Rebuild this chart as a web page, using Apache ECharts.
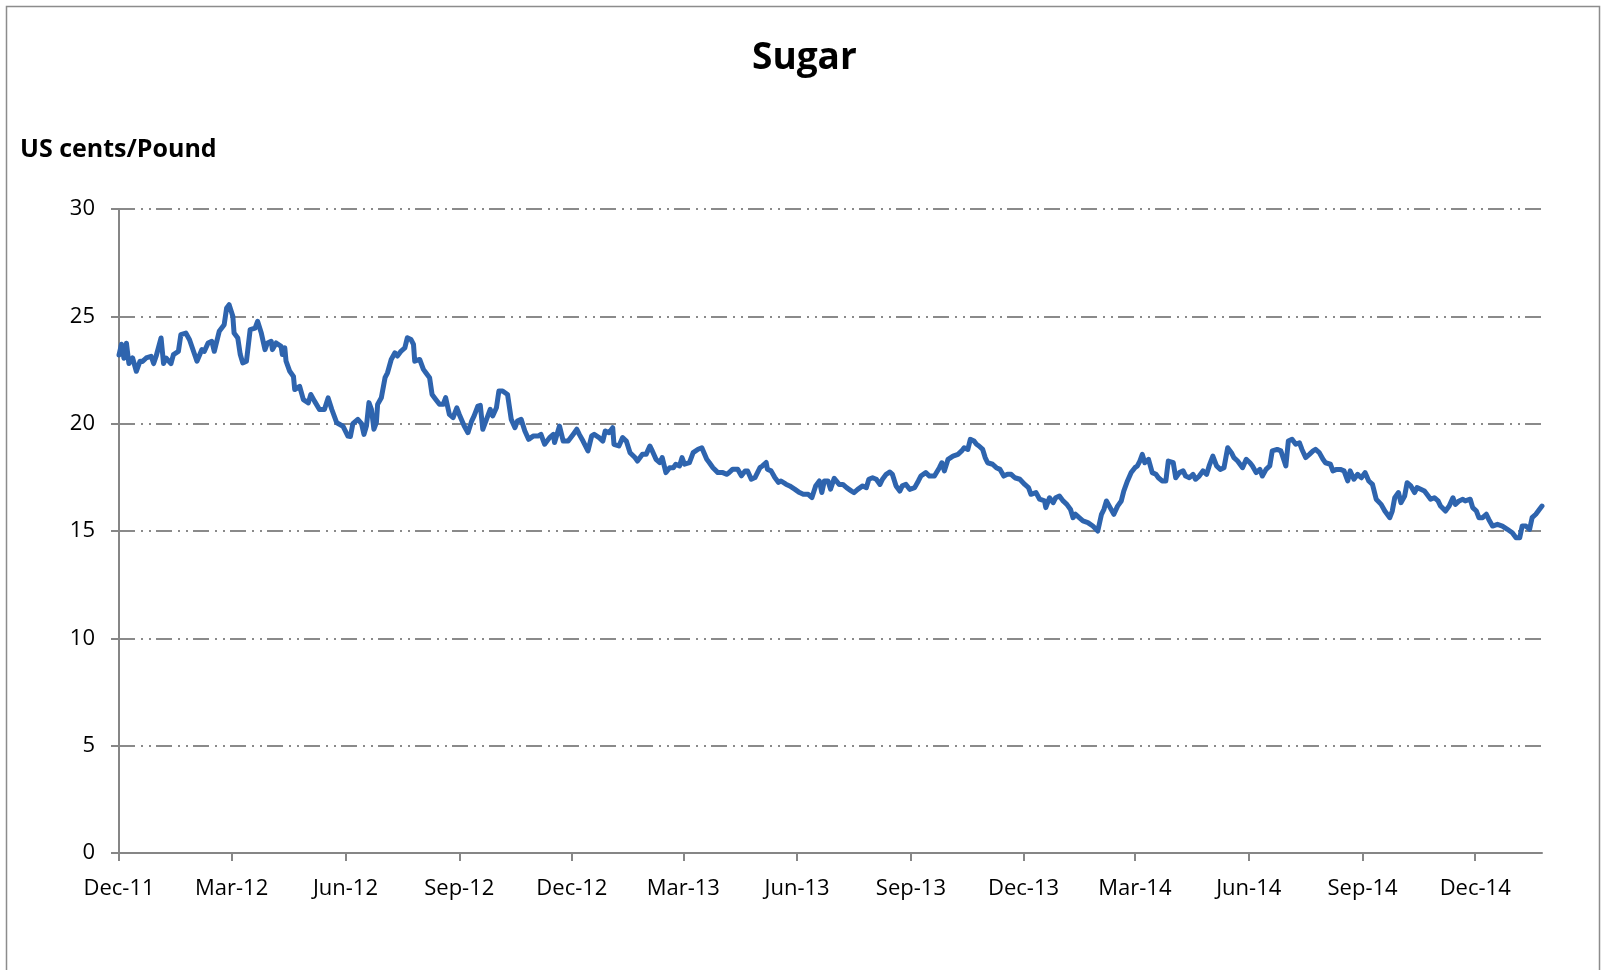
<!DOCTYPE html>
<html>
<head>
<meta charset="utf-8">
<script src="https://cdn.jsdelivr.net/npm/echarts@6/dist/echarts.min.js"></script>
<style>
html,body{margin:0;padding:0;background:#fff;}
#chart{width:1604px;height:970px;}
</style>
</head>
<body>
<div id="chart"></div>
<script>
// Data: days since 2011-12-01 and price in US cents/pound
const START = [2011, 11, 1];
const DAYS = [
0,2,4,6,8,11,14,17,19,22,26,28,30,34,36,38,42,44,48,50,54,57,63,67,69,72,75,77,81,85,87,89,92,93,96,98,100,103,106,110,112,115,118,120,123,124,127,131,132,134,135,138,141,142,146,149,153,155,158,162,166,169,172,176,181,185,187,
189,193,196,198,200,202,204,206,208,209,212,215,217,220,223,225,228,231,233,236,238,239,243,246,248,251,253,256,259,262,264,267,270,273,275,279,282,285,287,290,292,294,297,300,302,305,307,310,314,317,320,322,325,328,331,335,339,341,344,348,351,352,356,359,363,367,370,372,375,379,382,384,388,
391,393,396,399,400,404,407,410,413,417,419,423,426,429,431,434,437,439,442,445,448,450,453,455,457,461,464,468,471,475,477,480,484,488,491,493,496,500,503,506,508,511,514,518,520,523,524,527,530,533,535,539,542,546,550,553,557,560,563,566,568,570,573,
575,578,582,585,588,592,594,597,601,604,606,609,612,615,617,620,623,625,628,631,633,636,639,643,646,648,652,655,659,663,665,667,670,674,678,681,683,686,688,691,693,695,698,700,702,706,709,712,715,718,721,724,728,732,735,737,741,744,748,749,752,755,757,760,763,766,
769,771,773,776,779,783,787,791,794,796,798,801,804,807,810,812,815,818,821,823,825,827,829,832,835,838,840,843,846,848,852,854,857,860,862,865,868,870,873,876,879,881,884,887,890,893,896,899,901,904,908,911,914,916,919,922,924,927,930,932,936,939,943,945,948,951,954,
956,959,962,965,967,970,973,975,979,981,984,987,990,993,995,998,1001,1004,1007,1010,1013,1016,1020,1023,1027,1029,1031,1034,1036,1039,1041,1044,1047,1049,1052,1055,1057,1060,1063,1066,1068,1072,1075,1078,1080,1083,1086,1088,1092,1094,1097,1099,1102,1105,1107,1110,1114,1118,1122,1126,1129,1132,1134,1137,1140,1142,1145,1148,1150
];
const PRICES = [
23.2,23.7,23.05,23.75,22.8,23.06,22.44,22.91,22.9,23.06,23.14,22.8,23.14,23.99,22.8,23.06,22.8,23.22,23.37,24.15,24.22,23.91,22.91,23.45,23.37,23.76,23.84,23.37,24.3,24.61,25.39,25.54,25.0,24.22,23.99,23.22,22.83,22.91,24.38,24.45,24.77,24.22,23.45,23.76,23.84,23.45,23.76,23.6,23.22,23.53,22.91,22.44,22.2,21.59,21.74,21.12,20.97,21.36,21.05,20.66,20.66,21.2,20.66,20.04,19.88,19.42,19.4,
20.0,20.2,20.0,19.5,19.9,20.98,20.67,19.74,20.05,20.9,21.21,22.14,22.37,22.99,23.3,23.15,23.38,23.53,24.0,23.92,23.69,22.91,22.99,22.53,22.37,22.14,21.36,21.13,20.9,20.9,21.21,20.43,20.28,20.74,20.43,19.89,19.58,20.12,20.36,20.82,20.85,19.74,20.2,20.67,20.36,20.74,21.52,21.52,21.36,20.2,19.81,20.12,20.2,19.66,19.27,19.43,19.43,19.5,19.04,19.35,19.5,19.12,19.89,19.19,19.19,19.5,19.74,19.5,19.19,18.73,19.43,19.5,19.35,
19.19,19.66,19.58,19.81,19.04,18.96,19.35,19.19,18.65,18.42,18.26,18.57,18.57,18.96,18.73,18.34,18.19,18.42,17.72,17.95,17.95,18.11,18.03,18.42,18.11,18.19,18.65,18.81,18.88,18.34,18.19,17.95,17.72,17.72,17.64,17.72,17.88,17.88,17.57,17.8,17.8,17.41,17.49,17.95,18.03,18.19,17.88,17.8,17.49,17.26,17.33,17.18,17.1,16.95,16.79,16.71,16.71,16.56,17.1,17.33,16.79,17.33,17.33,
16.95,17.45,17.17,17.17,17.02,16.86,16.79,16.94,17.1,17.02,17.41,17.48,17.41,17.17,17.41,17.64,17.75,17.64,17.1,16.86,17.1,17.17,16.94,17.02,17.33,17.56,17.72,17.56,17.56,17.95,18.18,17.8,18.34,18.49,18.57,18.73,18.88,18.8,19.27,19.19,19.04,18.96,18.8,18.42,18.18,18.11,17.95,17.87,17.56,17.64,17.64,17.48,17.41,17.17,17.02,16.71,16.79,16.48,16.4,16.09,16.55,16.32,16.55,16.63,16.4,16.24,
16.0,15.62,15.78,15.62,15.47,15.39,15.23,15.0,15.78,16.01,16.4,16.09,15.78,16.16,16.4,16.86,17.33,17.72,17.95,18.03,18.26,18.57,18.18,18.34,17.72,17.64,17.48,17.33,17.33,18.26,18.18,17.48,17.72,17.8,17.56,17.48,17.64,17.41,17.56,17.8,17.64,18.03,18.49,18.03,17.87,17.95,18.88,18.65,18.42,18.26,17.95,18.34,18.18,18.03,17.72,17.87,17.56,17.87,18.03,18.73,18.8,18.73,18.03,19.19,19.27,19.04,19.11,
18.8,18.42,18.57,18.73,18.8,18.65,18.34,18.18,18.11,17.8,17.87,17.87,17.8,17.33,17.8,17.41,17.64,17.48,17.72,17.33,17.17,16.48,16.24,15.93,15.62,15.93,16.55,16.79,16.32,16.63,17.25,17.1,16.79,17.02,16.94,16.86,16.71,16.48,16.55,16.4,16.16,15.93,16.16,16.55,16.24,16.4,16.48,16.4,16.48,16.09,15.93,15.62,15.62,15.78,15.54,15.23,15.31,15.23,15.08,14.92,14.69,14.69,15.23,15.23,15.08,15.62,15.78,16.01,16.16
];
const TICK_DATES = ['2011-12-01','2012-03-01','2012-06-01','2012-09-01','2012-12-01','2013-03-01','2013-06-01','2013-09-01','2013-12-01','2014-03-01','2014-06-01','2014-09-01','2014-12-01'];
const TICK_LABELS = ['Dec-11','Mar-12','Jun-12','Sep-12','Dec-12','Mar-13','Jun-13','Sep-13','Dec-13','Mar-14','Jun-14','Sep-14','Dec-14'];
const Y_MIN = 0, Y_MAX = 30, Y_STEP = 5;
const AXIS_END_DAY = 1150;

const DAY_MS = 86400000;
const startUTC = Date.UTC(START[0], START[1], START[2]);
function dateToDay(s) { const p = s.split('-').map(Number); return Math.round((Date.UTC(p[0], p[1] - 1, p[2]) - startUTC) / DAY_MS); }
const tickDays = TICK_DATES.map(dateToDay);
const seriesData = DAYS.map((d, i) => [d, PRICES[i]]);

const FONT = '"Open Sans", "Noto Sans", sans-serif';
const chart = echarts.init(document.getElementById('chart'), null, {renderer: 'canvas'});
chart.setOption({
  animation: false,
  backgroundColor: '#ffffff',
  graphic: [{
    type: 'rect', silent: true,
    shape: {x: 6.5, y: 6.5, width: 1593, height: 1000},
    style: {fill: 'none', stroke: '#8c8c8c', lineWidth: 1.5}
  }],
  title: [
    {text: 'Sugar', left: 752, top: 40, padding: 0,
     textStyle: {fontFamily: FONT, fontWeight: 'bold', fontSize: 37, color: '#000'}},
    {text: 'US cents/Pound', left: 20, top: 137, padding: 0,
     textStyle: {fontFamily: FONT, fontWeight: 'bold', fontSize: 25, color: '#000'}}
  ],
  grid: {left: 119, right: 62, top: 209, bottom: 117, containLabel: false},
  xAxis: {
    type: 'value',
    min: 0,
    max: AXIS_END_DAY,
    axisLine: {show: true, lineStyle: {color: '#868686', width: 2}},
    axisTick: {show: true, length: 8, customValues: tickDays, lineStyle: {color: '#868686', width: 2}},
    axisLabel: {
      customValues: tickDays,
      margin: 25,
      showMinLabel: true, showMaxLabel: true,
      fontFamily: FONT, fontSize: 22, color: '#000',
      formatter: function (v) {
        const i = tickDays.indexOf(Math.round(v));
        return i >= 0 ? TICK_LABELS[i] : '';
      }
    },
    splitLine: {show: false}
  },
  yAxis: {
    type: 'value',
    min: Y_MIN, max: Y_MAX, interval: Y_STEP,
    axisLine: {show: true, lineStyle: {color: '#868686', width: 2}},
    axisTick: {show: true, length: 8, lineStyle: {color: '#868686', width: 2}},
    axisLabel: {margin: 24, fontFamily: FONT, fontSize: 22, color: '#000'},
    splitLine: {show: true, lineStyle: {color: '#8a8a8a', width: 2, type: [16, 6, 2, 6, 2, 5]}}
  },
  series: [{
    type: 'line',
    data: seriesData,
    showSymbol: false,
    symbol: 'none',
    lineStyle: {color: '#2E64AE', width: 5, join: 'round', cap: 'round'},
    z: 3
  }]
});
</script>
</body>
</html>
